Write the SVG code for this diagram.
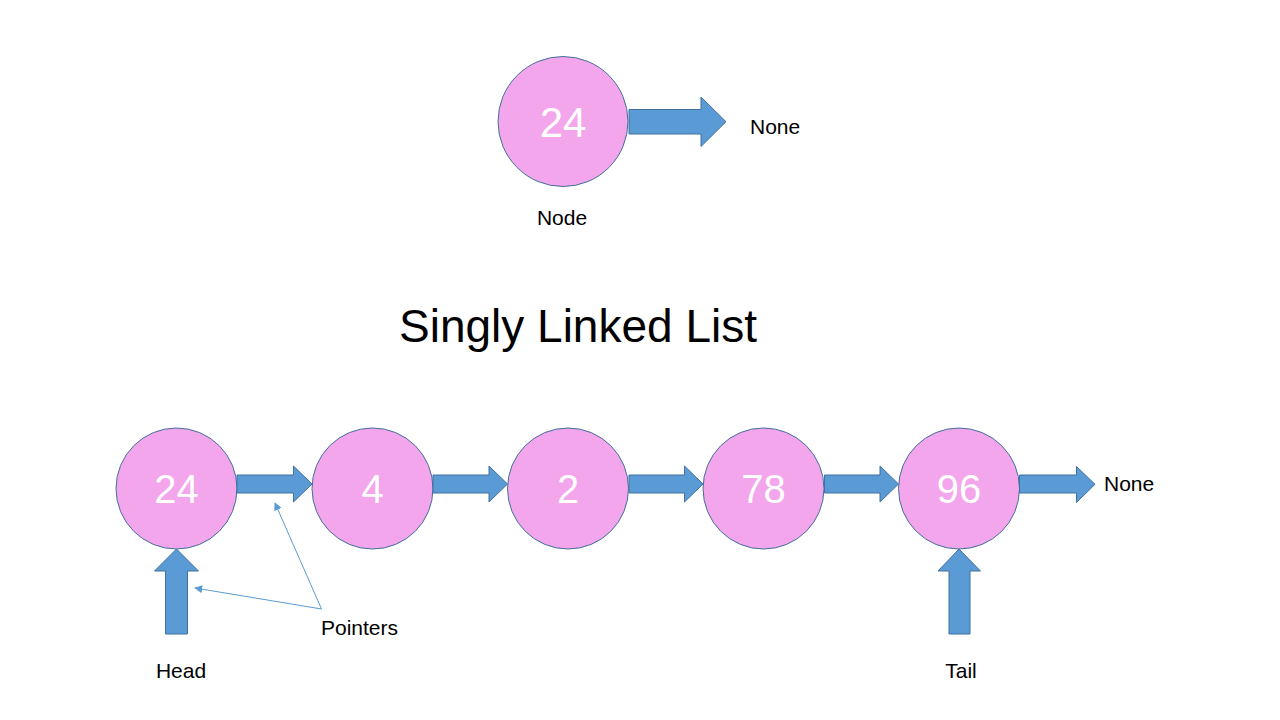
<svg xmlns="http://www.w3.org/2000/svg" width="1280" height="720" viewBox="0 0 1280 720">
<defs>
<style>
.node{fill:#F3A6EC;stroke:#41719C;stroke-width:1}
.val{font-family:"Liberation Sans",Arial,sans-serif;fill:#FFFFFF;text-anchor:middle}
.lbl{font-family:"Liberation Sans",Arial,sans-serif;fill:#000000;font-size:21px}
.blk{fill:#5B9BD5;stroke:#41719C;stroke-width:1}
.thin{fill:none;stroke:#5B9BD5;stroke-width:1}
</style>
<marker id="ah" viewBox="0 0 10 10" refX="9" refY="5" markerWidth="8" markerHeight="8" orient="auto" markerUnits="userSpaceOnUse">
<path d="M0,0 L10,5 L0,10 z" fill="#5B9BD5"/>
</marker>
</defs>
<rect width="1280" height="720" fill="#FFFFFF"/>

<g id="single-node">
<circle class="node" cx="563" cy="121.5" r="65"/>
<text class="val" x="563" y="137" font-size="42">24</text>
</g>
<text class="lbl" x="562" y="225" text-anchor="middle">Node</text>
<text class="lbl" x="750" y="134">None</text>

<text x="578" y="342" font-family="'Liberation Sans',Arial,sans-serif" font-size="46" text-anchor="middle" fill="#000000">Singly Linked List</text>

<g id="n1"><circle class="node" cx="176.5" cy="488.5" r="60.5"/><text class="val" x="176.5" y="503" font-size="40">24</text></g>
<g id="n2"><circle class="node" cx="372.5" cy="488.5" r="60.5"/><text class="val" x="372.5" y="503" font-size="40">4</text></g>
<g id="n3"><circle class="node" cx="568" cy="488.5" r="60.5"/><text class="val" x="568" y="503" font-size="40">2</text></g>
<g id="n4"><circle class="node" cx="763.5" cy="488.5" r="60.5"/><text class="val" x="763.5" y="503" font-size="40">78</text></g>
<g id="n5"><circle class="node" cx="959" cy="488.5" r="60.5"/><text class="val" x="959" y="503" font-size="40">96</text></g>

<g id="connectors">
<path class="blk" d="M629,109.5 H701 V97 L726,121.7 L701,146.5 V134 H629 Z"/>
<path class="blk" d="M237,475 H293.5 V466 L312,484 L293.5,502 V493 H237 Z"/>
<path class="blk" d="M433,475 H489 V466 L507.5,484 L489,502 V493 H433 Z"/>
<path class="blk" d="M629,475 H684.5 V466 L703,484 L684.5,502 V493 H629 Z"/>
<path class="blk" d="M824.5,475 H880 V466 L898.5,484 L880,502 V493 H824.5 Z"/>
<path class="blk" d="M1019.5,475 H1076.5 V466.5 L1095,484.3 L1076.5,502.5 V493 H1019.5 Z"/>
<path class="blk" d="M165.5,634 V571 H154.5 L176.5,549 L198.5,571 H187.5 V634 Z"/>
<path class="blk" d="M949,634 V571 H938 L959,549 L980.5,571 H970 V634 Z"/>
<line class="thin" x1="321.5" y1="609" x2="275" y2="503" marker-end="url(#ah)"/>
<line class="thin" x1="321.5" y1="609" x2="195" y2="588" marker-end="url(#ah)"/>
</g>

<text class="lbl" x="1104" y="491">None</text>
<text class="lbl" x="321" y="635">Pointers</text>
<text class="lbl" x="181" y="678" text-anchor="middle">Head</text>
<text class="lbl" x="961" y="678" text-anchor="middle">Tail</text>
</svg>
